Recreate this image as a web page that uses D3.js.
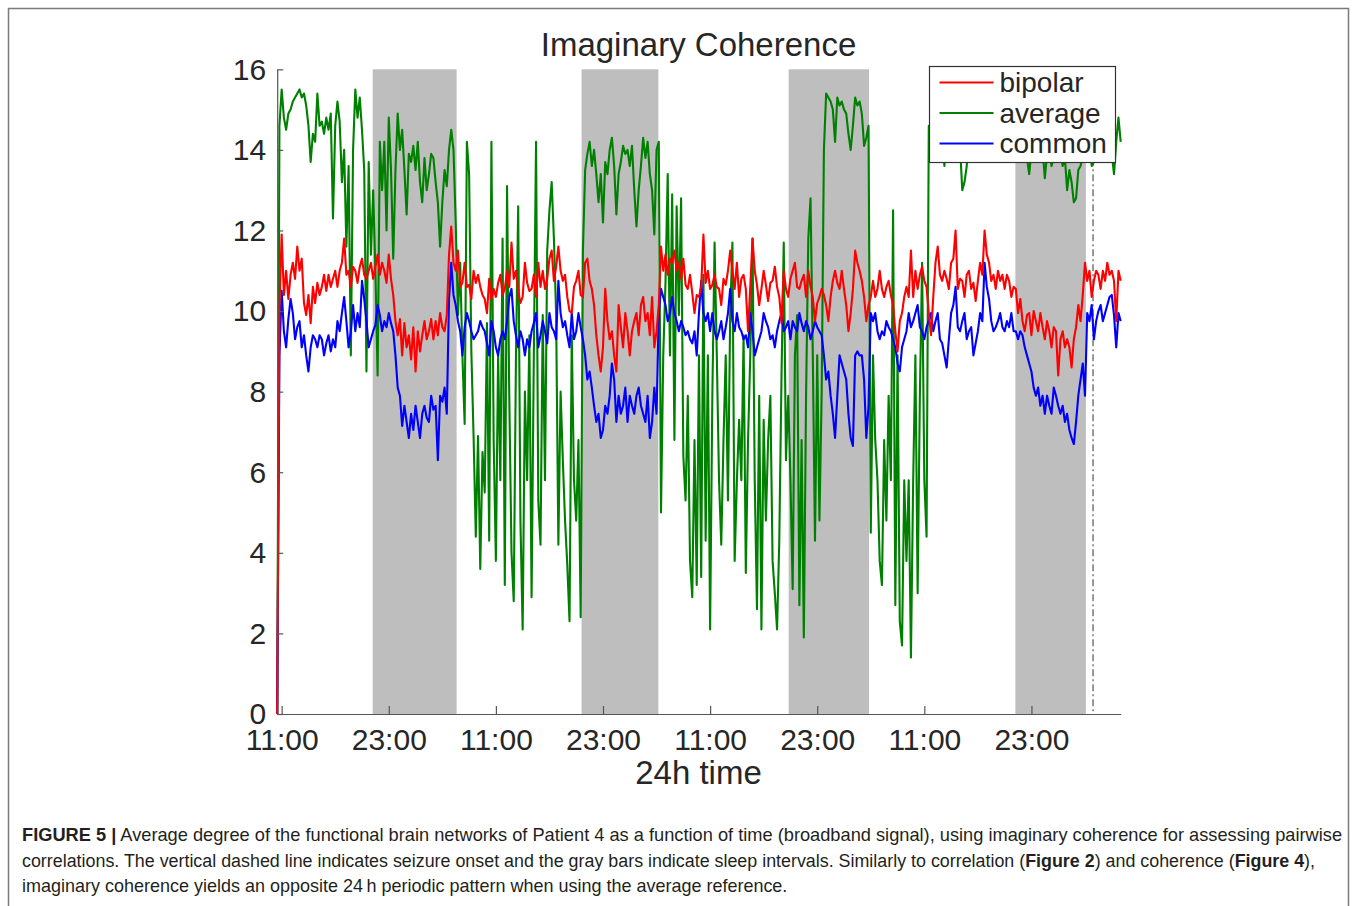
<!DOCTYPE html>
<html>
<head>
<meta charset="utf-8">
<script src="https://cdn.jsdelivr.net/npm/d3@7"></script>
<style>
  body { margin: 0; background: #fff; }
  svg { display: block; }
</style>
</head>
<body>
<div class="figure"></div>
<script>
'use strict'
// Data: one sample every quarter hour, hours counted from the first 11:00 tick.
const startHour = -0.5;
const stepHours = 0.25;

// Bipolar reference (red).
const bipolar = [
  0, 10.1,
  11.9, 10.4, 11.0, 10.3,   10.9, 11.2, 10.8, 11.6,   11.0, 11.3, 10.2, 9.9,
  10.4, 9.7, 10.6, 10.2,    10.7, 10.4, 10.6, 10.9,   10.5, 10.9, 10.6, 10.8,
  11.0, 10.6, 11.0, 11.2,   11.8, 10.9, 11.0, 10.6,   11.1, 11.0, 10.7, 11.1,
  11.3, 10.9, 10.8, 11.0,   11.2, 10.8, 11.1, 11.4,   10.9, 11.2, 11.0, 10.7,
  11.4, 10.8, 10.4, 9.75,   9.4, 9.8, 8.9, 9.7,       9.1, 9.4, 8.8, 9.6,
  8.5, 9.5, 9.0, 9.4,       9.75, 9.3, 9.5, 9.8,      9.3, 9.75, 9.4, 9.95,
  9.6, 9.5, 9.9, 11.4,      12.1, 11.2, 11.0, 11.5,   10.6, 10.7, 11.2, 10.6,
  10.65, 10.3, 11.0, 10.7,  10.9, 10.6, 10.4, 10.3,   9.95, 10.8, 10.3, 10.55,
  10.35, 10.7, 10.9, 10.4,  10.55, 11.0, 10.6, 11.7,  10.8, 11.0, 10.5, 10.2,
  10.35, 11.2, 10.7, 10.5,  10.55, 10.9, 10.35, 11.2, 10.6, 11.0, 10.55, 10.8,
  11.3, 11.5, 10.75, 11.1,  11.6, 11.0, 10.75, 10.9,  10.35, 10.0, 9.95, 10.6,
  10.75, 11.0, 10.4, 10.35, 11.2, 11.3, 10.75, 10.55, 10.15, 9.4, 8.9, 8.5,
  9.1, 10.55, 9.75, 9.3,    9.5, 8.9, 8.5, 10.15,     9.6, 9.1, 9.95, 9.5,
  8.9, 9.5, 9.75, 9.95,     9.4, 10.15, 10.35, 9.75,  9.95, 9.4, 10.35, 9.1,
  9.5, 10.15, 11.6, 11.0,   11.4, 10.9, 11.3, 11.2,   11.5, 11.0, 11.2, 10.8,
  11.3, 10.65, 10.55, 10.9, 10.45, 9.95, 10.4, 10.35, 10.6, 11.9, 10.7, 11.0,
  10.55, 10.65, 10.9, 10.6, 10.55, 10.15, 10.8, 10.65, 11.0, 11.5, 11.0, 10.55,
  11.2, 10.35, 10.8, 10.9,  10.55, 9.5, 10.6, 11.8,   11.0, 10.65, 10.15, 10.55,
  11.0, 10.65, 10.25, 10.7, 10.75, 11.1, 10.6, 10.35, 9.7, 11.0, 10.55, 10.35,
  10.8, 11.0, 11.2, 10.6,   10.55, 10.75, 10.9, 10.35, 11.0, 10.6, 10.35, 9.75,
  10.2, 10.35, 10.55, 10.4, 10.15, 9.75, 10.35, 10.75, 11.0, 10.7, 10.55, 11.0,
  10.55, 10.15, 9.5, 9.95,  10.55, 11.5, 11.2, 11.0,  10.75, 10.35, 9.75, 10.15,
  10.35, 10.75, 10.35, 10.55, 11.0, 10.55, 10.35, 10.6, 10.75, 10.4, 10.15, 9.5,
  9.0, 9.75, 9.95, 10.35,   10.6, 10.35, 11.5, 10.35, 11.0, 10.55, 10.9, 11.1,
  10.75, 10.6, 9.95, 9.4,   10.35, 11.2, 11.6, 10.9,  10.75, 11.0, 10.8, 10.55,
  11.2, 11.3, 12.0, 10.55,  10.8, 10.75, 10.35, 10.9, 11.0, 10.55, 10.7, 10.25,
  10.75, 11.2, 10.9, 12.0,  11.4, 11.2, 10.75, 10.9,  10.55, 11.0, 10.75, 10.9,
  10.55, 10.9, 10.75, 10.35, 10.6, 10.55, 9.95, 10.3, 9.75, 9.5, 9.9, 9.95,
  9.4, 10.0, 9.75, 9.5,     9.95, 9.6, 9.3, 9.75,     9.5, 9.1, 9.6, 9.5,
  8.4, 9.3, 9.5, 9.1,       9.3, 9.1, 8.6, 9.3,       9.6, 10.15, 9.75, 10.4,
  11.2, 10.75, 11.0, 10.35, 10.75, 11.0, 10.9, 10.55, 11.0, 10.75, 11.2, 10.9,
  11.0, 10.75, 9.75, 11.0,
  10.75
];

// Average reference (green).
const average = [
  0, 14.6,
  15.5, 14.8, 14.5, 14.9,   15.0, 15.2, 15.3, 15.4,   15.5, 15.3, 15.4, 15.1,
  14.6, 13.7, 14.4, 14.2,   15.4, 14.6, 14.7, 14.4,   14.8, 14.5, 14.9, 12.3,
  14.6, 15.2, 14.7, 13.2,   14.0, 11.6, 13.6, 8.9,    14.0, 15.5, 14.8, 15.3,
  14.5, 13.5, 8.5, 13.7,    11.4, 13.0, 11.0, 8.4,    14.2, 13.0, 14.2, 12.0,
  14.8, 13.5, 11.3, 13.5,   14.9, 14.0, 14.5, 13.5,   12.4, 13.9, 13.7, 14.1,
  13.5, 14.2, 13.2, 12.7,   13.8, 13.0, 13.4, 13.9,   13.8, 13.2, 12.7, 11.6,
  12.7, 13.5, 13.1, 14.0,   14.5, 14.0, 12.2, 9.9,    11.2, 8.9, 7.2, 14.2,
  13.4, 9.0, 6.9, 4.4,      6.9, 3.6, 6.5, 5.5,       9.7, 4.3, 14.2, 6.8,
  3.8, 8.9, 5.8, 11.8,      3.2, 13.1, 7.9, 4.0,      2.8, 8.9, 12.6, 4.8,
  2.1, 8.0, 5.8, 9.4,       2.9, 8.9, 14.2, 5.3,      4.2, 9.9, 5.8, 11.5,
  12.5, 13.2, 11.8, 9.9,    4.2, 8.0, 6.3, 4.8,       3.7, 2.3, 9.4, 5.8,
  4.8, 6.8, 2.4, 11.5,      13.5, 13.9, 14.2, 13.6,   14.0, 13.4, 12.7, 13.4,
  12.2, 13.7, 13.4, 14.0,   14.3, 13.6, 12.4, 13.4,   13.7, 14.1, 13.9, 14.0,
  13.6, 14.1, 13.0, 12.1,   13.0, 13.6, 14.3, 13.8,   14.2, 13.4, 13.0, 11.9,
  14.0, 14.2, 5.0, 8.9,     10.7, 13.4, 8.9, 12.9,    6.8, 12.6, 9.9, 12.8,
  6.4, 5.3, 7.9, 3.8,       2.9, 6.8, 3.2, 8.9,       3.4, 10.9, 4.3, 8.9,
  2.1, 7.9, 11.7, 8.9,      5.8, 4.2, 6.8, 8.9,       5.3, 9.9, 11.7, 3.8,
  5.8, 7.3, 5.8, 9.4,       3.5, 6.8, 8.9, 11.8,      5.8, 2.6, 7.9, 2.1,
  7.3, 4.8, 6.8, 7.9,       3.8, 3.0, 2.1, 4.3,       8.4, 11.7, 6.3, 7.9,
  5.8, 3.1, 8.9, 9.9,       2.7, 6.8, 1.9, 7.9,       11.8, 12.8, 9.0, 4.3,
  8.9, 4.8, 8.0, 14.0,      15.4, 15.3, 15.2, 15.0,   14.2, 15.3, 15.1, 15.2,
  15.0, 14.9, 14.4, 14.0,   14.6, 15.3, 15.1, 15.2,   14.9, 14.1, 14.3, 14.6,
  4.5, 8.9, 6.8, 5.8,       3.8, 3.2, 6.8, 4.8,       7.9, 5.8, 12.5, 2.7,
  8.9, 2.3, 1.7, 5.8,       3.8, 5.8, 1.4, 5.8,       8.9, 3.0, 7.9, 11.2,
  5.8, 4.4, 14.6, 14.3,     14.5, 14.2, 14.6, 14.3,   14.4, 13.6, 14.5, 14.4,
  14.6, 14.2, 14.5, 14.4,   14.1, 13.0, 13.2, 13.6,   14.3, 14.5, 14.6, 14.4,
  14.5, 14.7, 14.4, 14.5,   14.6, 14.3, 14.5, 14.6,   14.4, 14.5, 14.3, 14.6,
  14.5, 14.4, 14.2, 14.5,   14.3, 14.1, 14.0, 14.2,   13.9, 14.1, 13.8, 13.4,
  14.0, 13.8, 14.1, 13.7,   13.9, 14.0, 13.3, 13.9,   14.0, 13.6, 13.8, 14.1,
  13.7, 13.9, 13.6, 13.8,   13.0, 13.5, 13.2, 12.7,   12.8, 13.5, 13.6, 13.9,
  13.8, 14.1, 14.2, 13.6,   13.7, 14.0, 14.2, 14.1,   14.3, 14.0, 14.2, 14.1,
  13.9, 13.4, 14.2, 14.8,
  14.2
];

// Common reference (blue).
const common = [
  0, 8.9,
  10.5, 9.5, 9.1, 9.8,      10.3, 9.95, 9.3, 9.6,     9.75, 9.1, 9.4, 8.9,
  8.5, 9.1, 9.4, 9.3,       9.1, 9.4, 9.3, 8.9,       9.2, 9.4, 9.0, 9.3,
  9.1, 9.75, 9.5, 9.95,     10.35, 9.75, 9.1, 9.5,    10.15, 9.5, 9.95, 9.6,
  10.75, 10.3, 9.75, 9.1,   9.3, 9.5, 9.65, 10.15,    9.9, 9.5, 9.75, 9.6,
  9.95, 9.7, 9.5, 8.9,      8.1, 7.9, 7.15, 7.65,     7.25, 6.85, 7.45, 7.05,
  7.65, 7.25, 6.85, 7.45,   7.65, 7.35, 7.25, 7.9,    7.55, 7.65, 6.3, 7.9,
  7.75, 8.1, 7.45, 10.3,    11.2, 10.4, 10.15, 9.75,  9.5, 8.9, 9.6, 9.95,
  9.75, 9.5, 9.3, 9.4,      9.5, 9.75, 9.6, 9.5,      9.2, 8.9, 9.75, 9.5,
  9.1, 8.9, 9.3, 9.5,       9.3, 9.75, 10.35, 10.55,  9.75, 9.4, 9.1, 9.5,
  9.3, 8.9, 9.3, 9.1,       9.5, 9.7, 9.95, 9.1,      9.4, 9.75, 9.5, 9.2,
  9.95, 9.6, 9.5, 9.3,      10.75, 9.95, 9.6, 9.75,   9.4, 9.1, 9.95, 9.3,
  9.5, 9.95, 9.6, 9.3,      8.9, 8.3, 8.5, 8.1,       7.65, 7.25, 7.45, 6.85,
  7.05, 7.65, 7.45, 7.9,    8.7, 8.3, 7.25, 7.9,      7.45, 7.65, 8.1, 7.25,
  7.9, 7.65, 7.45, 7.9,     8.1, 7.65, 7.45, 7.25,    7.9, 6.85, 7.25, 8.1,
  7.45, 9.95, 10.55, 10.35, 10.15, 9.75, 9.95, 10.35, 9.95, 9.75, 9.5, 9.75,
  9.6, 9.4, 9.5, 9.3,       9.2, 9.5, 8.9, 9.95,      10.75, 9.95, 9.75, 9.95,
  9.5, 9.95, 9.5, 9.3,      9.5, 9.75, 9.3, 9.6,      9.95, 10.55, 9.75, 9.5,
  9.95, 9.6, 9.5, 9.3,      9.4, 9.1, 9.95, 9.5,      8.9, 9.1, 9.3, 9.5,
  9.95, 9.75, 9.6, 9.3,     9.4, 9.1, 9.5, 9.75,      9.95, 9.5, 9.6, 9.75,
  9.3, 9.75, 9.6, 9.5,      9.95, 9.7, 9.5, 9.75,     9.6, 9.3, 9.5, 9.75,
  9.6, 9.5, 9.4, 8.9,       8.3, 8.5, 7.9, 7.45,      6.85, 7.9, 8.9, 8.7,
  8.5, 8.3, 7.45, 6.85,     6.65, 8.9, 9.0, 8.9,      8.9, 8.3, 6.85, 7.65,
  9.95, 9.75, 9.95, 9.5,    9.3, 9.5, 9.4, 9.75,      9.6, 9.5, 9.3, 9.1,
  8.7, 8.5, 9.1, 9.3,       9.5, 9.95, 9.6, 9.75,     9.95, 10.15, 9.6, 9.5,
  9.3, 9.6, 9.75, 9.95,     9.5, 9.75, 9.95, 9.3,     9.2, 8.9, 8.6, 9.3,
  9.95, 10.15, 10.6, 9.6,   9.5, 9.75, 9.95, 9.3,     9.5, 9.6, 8.9, 9.2,
  9.5, 9.95, 9.75, 11.2,    10.6, 10.3, 9.75, 9.5,    9.6, 9.75, 9.95, 9.6,
  9.5, 9.75, 9.6, 9.95,     9.5, 9.5, 9.3, 9.5,       9.4, 9.1, 8.9, 8.7,
  8.5, 8.1, 7.9, 8.1,       7.65, 7.9, 7.45, 7.9,     7.65, 7.45, 8.1, 7.9,
  7.65, 7.45, 7.65, 7.25,   7.45, 7.05, 6.85, 6.7,    7.25, 7.9, 8.3, 8.7,
  7.9, 9.95, 9.75, 10.15,   9.3, 9.75, 10.0, 10.15,   9.75, 9.95, 10.15, 10.35,
  10.4, 9.9, 9.1, 9.95,
  9.75
];

// Sleep intervals (hours) and seizure onset.
const sleepStart = [10.2, 33.6, 56.8, 82.2];
const sleepEnd = [19.6, 42.2, 65.8, 90.1];
const seizureOnset = 90.9;

// Axis ticks.
const xTickHours = [0, 12, 24, 36, 48, 60, 72, 84];
const xTickLabels = ['11:00', '23:00', '11:00', '23:00', '11:00', '23:00', '11:00', '23:00'];
const yTicks = [0, 2, 4, 6, 8, 10, 12, 14, 16];

// Series, in legend order.
const seriesNames = ['bipolar', 'average', 'common'];
const seriesColors = ['#ff0000', '#008000', '#0000ff'];
const seriesValues = [bipolar, average, common];

// Caption lines: [text, bold].
const captionLines = [
  [['FIGURE 5 |', true], [' Average degree of the functional brain networks of Patient 4 as a function of time (broadband signal), using imaginary coherence for assessing pairwise', false]],
  [['correlations. The vertical dashed line indicates seizure onset and the gray bars indicate sleep intervals. Similarly to correlation (', false], ['Figure 2', true], [') and coherence (', false], ['Figure 4', true], ['),', false]],
  [['imaginary coherence yields an opposite 24\u2009h periodic pattern when using the average reference.', false]]
];
const captionWidths = [1321, 1294, 766];

function main() {
  const W = 1357, H = 906;
  const font = '"Liberation Sans", Arial, Helvetica, sans-serif';
  const ink = '#262626';

  const svg = d3.select('.figure')
    .append('svg')
    .attr('width', W)
    .attr('height', H);

  // FRAME
  svg.append('rect')
    .attr('x', 8.5).attr('y', 8.5)
    .attr('width', 1340).attr('height', 910)
    .attr('fill', 'none')
    .attr('stroke', '#7a7a7a')
    .attr('stroke-width', 1.5);

  const xScale = d3.scaleLinear([startHour, 94], [277.2, 1120.7]);
  const yScale = d3.scaleLinear([0, 16], [714, 69.3]);

  // SLEEP BARS
  const sleep = sleepStart.map((s, i) => ({ start: s, end: sleepEnd[i] }));
  svg.selectAll('.sleep')
    .data(sleep)
    .enter()
    .append('rect')
    .attr('class', 'sleep')
    .attr('x', d => xScale(d.start))
    .attr('y', yScale(16))
    .attr('width', d => xScale(d.end) - xScale(d.start))
    .attr('height', yScale(0) - yScale(16))
    .attr('fill', '#bebebe');

  // SEIZURE ONSET
  svg.append('line')
    .attr('x1', xScale(seizureOnset)).attr('x2', xScale(seizureOnset))
    .attr('y1', yScale(16)).attr('y2', yScale(0))
    .attr('stroke', '#555')
    .attr('stroke-width', 1.2)
    .attr('stroke-dasharray', '7,3,2,3');

  // DATA LINES (average, common, bipolar on top)
  const line = d3.line()
    .x((d, i) => xScale(startHour + i * stepHours))
    .y(d => yScale(d));

  const drawOrder = [1, 2, 0];
  svg.selectAll('.series')
    .data(drawOrder)
    .enter()
    .append('path')
    .attr('class', 'series')
    .attr('d', k => line(seriesValues[k]))
    .attr('fill', 'none')
    .attr('stroke', k => seriesColors[k])
    .attr('stroke-width', 2.1)
    .attr('stroke-linejoin', 'round');

  // X AXIS
  const xAxis = d3.axisBottom(xScale)
    .tickValues(xTickHours)
    .tickFormat((d, i) => xTickLabels[i])
    .tickSizeInner(-8)
    .tickSizeOuter(0);

  const xAxisDraw = svg.append('g')
    .attr('transform', `translate(0, ${yScale(0)})`)
    .call(xAxis);
  xAxisDraw.select('.domain').attr('stroke', '#555').attr('stroke-width', 1.2);
  xAxisDraw.selectAll('.tick line').attr('stroke', '#555').attr('stroke-width', 1.2);
  xAxisDraw.selectAll('text')
    .attr('y', 36).attr('dy', 0)
    .style('font-family', font)
    .style('font-size', '30px')
    .attr('fill', ink);

  // Y AXIS
  const yAxis = d3.axisLeft(yScale)
    .tickValues(yTicks)
    .tickSizeInner(-6)
    .tickSizeOuter(0);

  const yAxisDraw = svg.append('g')
    .attr('transform', `translate(${xScale(startHour)}, 0)`)
    .call(yAxis);
  yAxisDraw.select('.domain').attr('stroke', '#555').attr('stroke-width', 1.2);
  yAxisDraw.selectAll('.tick line').attr('stroke', '#555').attr('stroke-width', 1.2);
  yAxisDraw.selectAll('text')
    .attr('x', -11).attr('dy', '0.33em')
    .style('font-family', font)
    .style('font-size', '30px')
    .attr('fill', ink);

  // TITLE AND LABEL
  svg.append('text')
    .attr('x', 698.5).attr('y', 56)
    .attr('text-anchor', 'middle')
    .style('font-family', font)
    .style('font-size', '33px')
    .attr('fill', ink)
    .text('Imaginary Coherence');

  svg.append('text')
    .attr('x', 698.5).attr('y', 784)
    .attr('text-anchor', 'middle')
    .style('font-family', font)
    .style('font-size', '33px')
    .attr('fill', ink)
    .text('24h time');

  // LEGEND
  const legend = svg.append('g').attr('transform', 'translate(929.5, 66.5)');
  legend.append('rect')
    .attr('width', 186).attr('height', 96)
    .attr('fill', '#fff')
    .attr('stroke', '#333')
    .attr('stroke-width', 1.2);

  const rows = legend.selectAll('.legend-row')
    .data(seriesNames)
    .enter()
    .append('g')
    .attr('class', 'legend-row')
    .attr('transform', (d, i) => `translate(0, ${16 + i * 30.5})`);
  rows.append('line')
    .attr('x1', 10).attr('x2', 64)
    .attr('stroke', (d, i) => seriesColors[i])
    .attr('stroke-width', 2);
  rows.append('text')
    .attr('x', 70).attr('dy', '0.35em')
    .style('font-family', font)
    .style('font-size', '28px')
    .attr('fill', ink)
    .text(d => d);

  // CAPTION (condensed by a horizontal scale fitted to the reference widths)
  const caption = svg.append('g')
    .style('font-family', font)
    .style('font-size', '18px')
    .attr('fill', '#231f20');

  captionLines.forEach((parts, i) => {
    const g = caption.append('g');
    const t = g.append('text').attr('x', 0).attr('y', 0);
    parts.forEach(p => {
      t.append('tspan')
        .style('font-weight', p[1] ? 'bold' : 'normal')
        .text(p[0]);
    });
    const natural = t.node().getComputedTextLength();
    const sx = captionWidths[i] / natural;
    g.attr('transform', `translate(22, ${841 + i * 25.5}) scale(${sx}, 1)`);
  });
}

// START
main();
</script>
</body>
</html>
